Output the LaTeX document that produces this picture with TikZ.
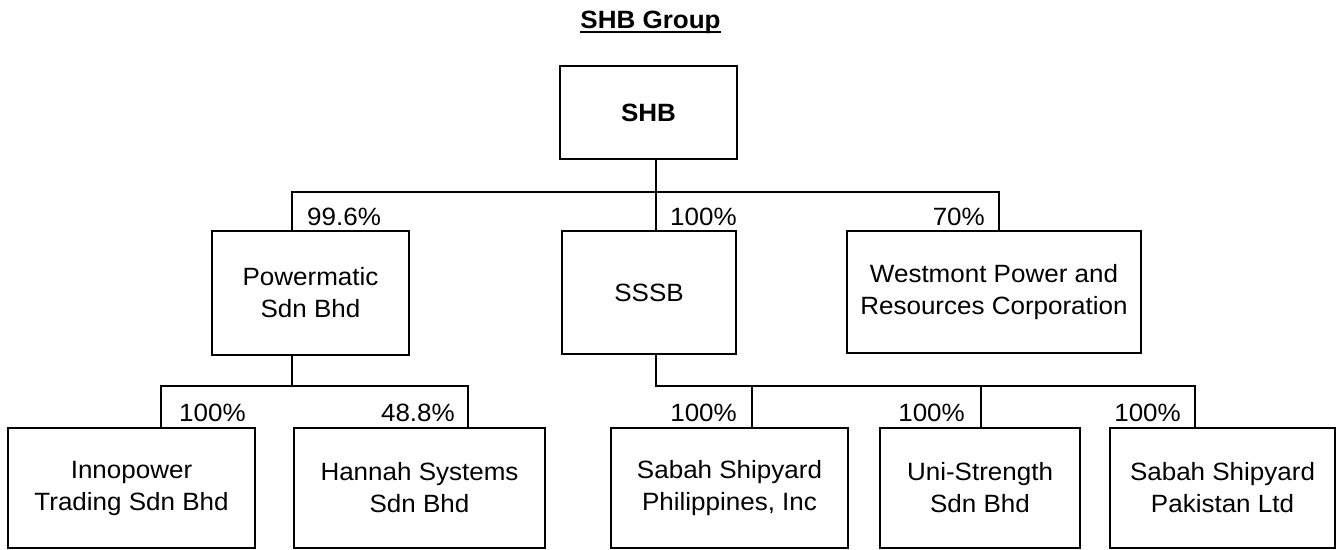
\documentclass[tikz,border=0pt]{standalone}
\usepackage{fontspec}
\setmainfont{Liberation Sans}[FakeStretch=1.04]
\begin{document}
\begin{tikzpicture}[x=1pt,y=-1pt,
  every node/.style={font=\fontsize{25}{32}\selectfont},
  org/.style={draw, line width=1.6pt, align=center, inner sep=0pt},
  pct/.style={inner sep=0pt},
  conn/.style={line width=1.6pt}]
\useasboundingbox (0,0) rectangle (1338,549);
% title
\node[inner sep=0pt, anchor=base, font=\fontsize{25}{32}\selectfont\bfseries] (title) at (650.5,28.5) {SHB Group};
\draw[line width=1.8pt] ([yshift=-3.8pt]title.base west) -- ([yshift=-3.8pt]title.base east);
% boxes
\node[org, minimum width=177pt, minimum height=93pt, font=\fontsize{25}{32}\selectfont\bfseries] (shb) at (648.5,112.5) {SHB};
\node[org, minimum width=197pt, minimum height=124pt] (pm) at (310.5,293) {Powermatic\\Sdn Bhd};
\node[org, minimum width=174pt, minimum height=123pt] (sssb) at (649,292.5) {SSSB};
\node[org, minimum width=294pt, minimum height=122pt] (wm) at (994,292) {Westmont Power and\\Resources Corporation};
\node[org, minimum width=247pt, minimum height=120pt] (inno) at (131.5,488) {Innopower\\Trading Sdn Bhd};
\node[org, minimum width=251pt, minimum height=120pt] (hannah) at (419.5,488) {Hannah Systems\\Sdn Bhd};
\node[org, minimum width=237pt, minimum height=120pt] (sabph) at (729.5,488) {Sabah Shipyard\\Philippines, Inc};
\node[org, minimum width=200pt, minimum height=120pt] (uni) at (980,488) {Uni-Strength\\Sdn Bhd};
\node[org, minimum width=225pt, minimum height=120pt] (sabpk) at (1222.5,488) {Sabah Shipyard\\Pakistan Ltd};
% top-level bus
\coordinate (t0) at (656,192);
\coordinate (t1) at (292,192);
\coordinate (t3) at (999,192);
\draw[conn] (shb.south -| t0) -- (t0);
\draw[conn] (t1 |- pm.north) -- (t1) -- (t3) -- (t3 |- wm.north);
\draw[conn] (t0) -- (t0 |- sssb.north);
% Powermatic bus
\coordinate (p0) at (292,386);
\coordinate (p1) at (161,386);
\coordinate (p2) at (468,386);
\draw[conn] (pm.south -| p0) -- (p0);
\draw[conn] (p1 |- inno.north) -- (p1) -- (p2) -- (p2 |- hannah.north);
% SSSB bus
\coordinate (s0) at (656,386);
\coordinate (s1) at (752,386);
\coordinate (s2) at (981,386);
\coordinate (s3) at (1195,386);
\draw[conn] (sssb.south -| s0) -- (s0) -- (s3) -- (s3 |- sabpk.north);
\draw[conn] (s1) -- (s1 |- sabph.north);
\draw[conn] (s2) -- (s2 |- uni.north);
% percentages
\node[pct, anchor=west] (l1) at (307,217) {99.6\%};
\node[pct, anchor=west] (l2) at (670,217) {100\%};
\node[pct, anchor=east] (l3) at (985,217) {70\%};
\node[pct, anchor=west] (l4) at (179,413) {100\%};
\node[pct, anchor=east] (l5) at (455,413) {48.8\%};
\node[pct, anchor=east] (l6) at (737,413) {100\%};
\node[pct, anchor=east] (l7) at (965,413) {100\%};
\node[pct, anchor=east] (l8) at (1181,413) {100\%};
\end{tikzpicture}
\end{document}
